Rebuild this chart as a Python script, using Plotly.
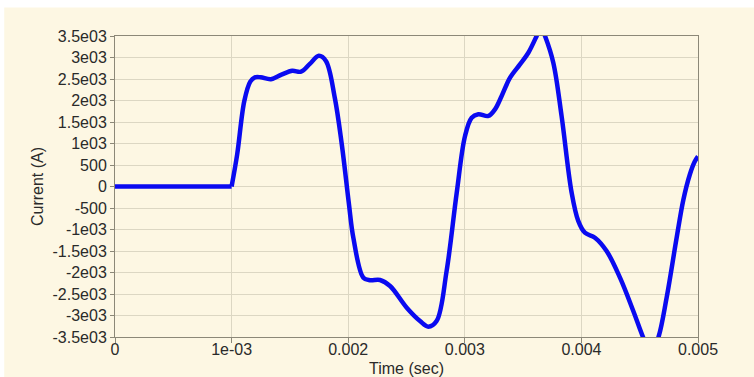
import plotly.graph_objects as go

# Sampled current waveform (time in seconds, current in amperes)
time_s = [
    0.0, 0.001, 0.001048, 0.001109, 0.00116, 0.0012, 0.00125, 0.001337,
    0.001428, 0.00152, 0.001596, 0.001671, 0.001748, 0.001809, 0.001885,
    0.001945, 0.002006, 0.002044, 0.00213, 0.002187, 0.002273,
    0.002359, 0.002502, 0.002616, 0.002687, 0.002758, 0.002844, 0.00293,
    0.003002, 0.003059, 0.003116, 0.003202, 0.003259, 0.003316, 0.003388,
    0.003473, 0.003545, 0.003616, 0.003652, 0.003688, 0.003759, 0.00383,
    0.003916, 0.003973, 0.00403, 0.004116, 0.004216, 0.004331, 0.004445,
    0.004531, 0.004595, 0.004659, 0.004731, 0.004817, 0.004875, 0.00493,
    0.00497, 0.005,
]
current_a = [
    0, 0, 750, 1990, 2440, 2540, 2540, 2495,
    2600, 2690, 2670, 2850, 3040, 2920, 2065,
    980, -400, -1190, -2120, -2180, -2175,
    -2315, -2820, -3130, -3260, -3130, -1965, -160,
    1175, 1600, 1680, 1640, 1795, 2105, 2530,
    2840, 3110, 3500, 3720, 3500, 2880, 1640,
    -140, -800, -1075, -1190, -1500, -2120, -2895,
    -3520, -3900, -3520, -2585, -1190, -300, 280,
    570, 700,
]

y_tick_vals = [3500, 3000, 2500, 2000, 1500, 1000, 500, 0,
               -500, -1000, -1500, -2000, -2500, -3000, -3500]
y_tick_text = ["3.5e03", "3e03", "2.5e03", "2e03", "1.5e03", "1e03", "500", "0",
               "-500", "-1e03", "-1.5e03", "-2e03", "-2.5e03", "-3e03", "-3.5e03"]
x_tick_vals = [0, 0.001, 0.002, 0.003, 0.004, 0.005]
x_tick_text = ["0", "1e-03", "0.002", "0.003", "0.004", "0.005"]

CREAM = "#FDF7E3"
GRID = "#DCD7C3"
FRAME = "#8C8878"
FONT = "Liberation Sans, Arial, sans-serif"
LINE = dict(color="#0A0AF0", width=4.5)

# The waveform is flat until the switching instant, then smooth afterwards.
switch = time_s.index(0.001)

fig = go.Figure()
fig.add_trace(go.Scatter(
    x=time_s[:switch + 1], y=current_a[:switch + 1], mode="lines",
    line=dict(**LINE), hoverinfo="skip", showlegend=False,
))
fig.add_trace(go.Scatter(
    x=time_s[switch:], y=current_a[switch:], mode="lines",
    line=dict(**LINE, shape="spline", smoothing=1.0),
    hoverinfo="skip", showlegend=False,
))

fig.update_layout(
    width=754, height=377,
    margin=dict(l=115, r=56, t=36, b=40),
    paper_bgcolor="white",
    plot_bgcolor=CREAM,
    font=dict(family=FONT, size=16, color="#2A2A2A"),
    shapes=[dict(
        type="rect", xref="paper", yref="paper", layer="below",
        x0=-0.19, x1=1.12, y0=-0.2, y1=1.095,
        fillcolor=CREAM, line=dict(width=0),
    )],
)
fig.update_xaxes(
    range=[0, 0.005], tickvals=x_tick_vals, ticktext=x_tick_text,
    showgrid=True, gridcolor=GRID, gridwidth=1,
    showline=True, linecolor=FRAME, linewidth=1, mirror=True,
    ticks="outside", ticklen=5, tickcolor=FRAME, ticklabelstandoff=-7,
    zeroline=False, automargin=False,
    title=dict(text="Time (sec)", font=dict(size=16), standoff=6),
    tickfont=dict(size=16),
)
fig.update_yaxes(
    range=[-3500, 3500], tickvals=y_tick_vals, ticktext=y_tick_text,
    showgrid=True, gridcolor=GRID, gridwidth=1,
    showline=True, linecolor=FRAME, linewidth=1, mirror=True,
    ticks="outside", ticklen=4, tickcolor=FRAME,
    zeroline=False, automargin=False,
    title=dict(text="Current (A)", font=dict(size=16), standoff=4),
    tickfont=dict(size=16),
)

fig.write_html("out.html")
